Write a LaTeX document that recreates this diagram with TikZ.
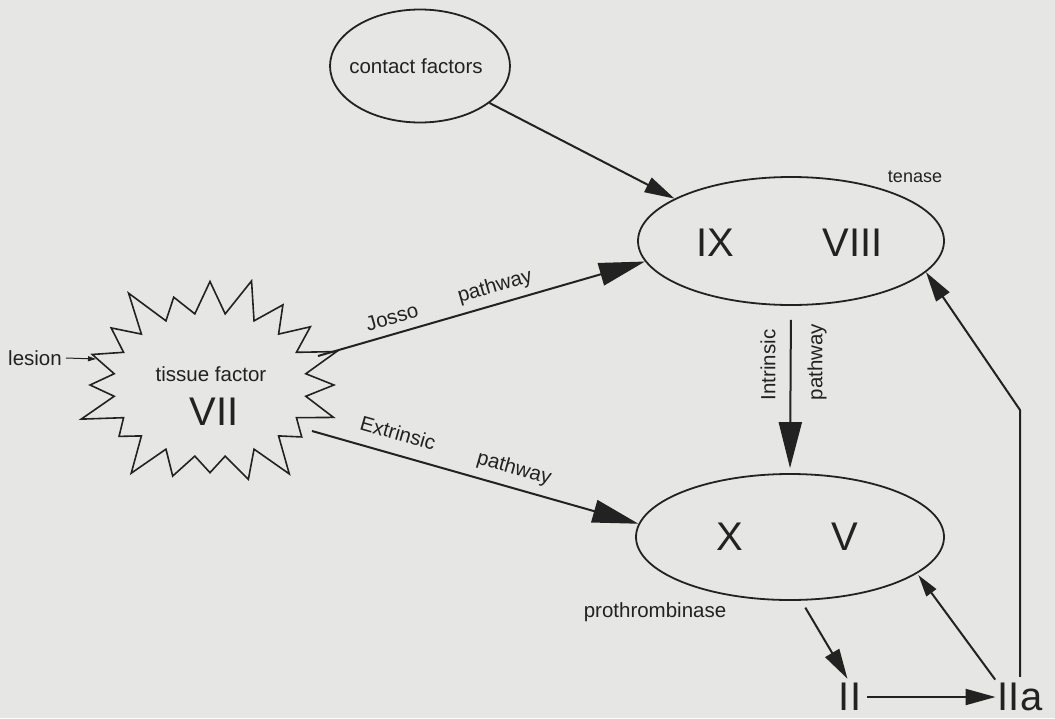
\documentclass[tikz,border=0pt]{standalone}
\usepackage{fontspec}
\setmainfont{Liberation Sans}
\usetikzlibrary{shapes.geometric,shapes.symbols,arrows.meta}
\definecolor{paper}{RGB}{230,230,228}
\definecolor{ink}{RGB}{34,34,34}
\begin{document}
\begin{tikzpicture}[x=1pt,y=-1pt,
    cplx/.style={draw=ink, line width=1.8pt, ellipse, inner sep=0pt},
    lbl/.style={text=ink, inner sep=0pt, font=\fontsize{20.5}{24}\selectfont},
    roman/.style={text=ink, inner sep=0pt, font=\fontsize{40}{48}\selectfont},
    flow/.style={draw=ink, line width=2pt},
    bigtip/.style={-{Triangle[length=46pt,width=23pt]}},
    midtip/.style={-{Triangle[length=30pt,width=16pt]}},
    smalltip/.style={-{Triangle[length=22pt,width=12pt]}}]
    % papier
    \fill[paper] (0,0) rectangle (1055,718);

    % complexes
    \node[cplx, minimum width=180pt, minimum height=113pt] (contact) at (420,66) {};
    \node[lbl] (contacttxt) at (416,66) {contact factors};
    \node[cplx, minimum width=306pt, minimum height=128pt] (tenase) at (791,241) {};
    \node[roman] (IX) at (715,243) {IX};
    \node[roman] (VIII) at (853,243) {VIII};
    \node[lbl, font=\fontsize{18}{22}\selectfont] (tenasetxt) at (915,177) {tenase};
    \node[cplx, minimum width=308pt, minimum height=126pt] (XV) at (790,537) {};
    \node[roman] (X) at (730,537) {X};
    \node[roman] (V) at (845,537) {V};
    \node[lbl] (prothr) at (655,612) {prothrombinase};
    \node[roman] (II) at (850,697) {II};
    \node[roman] (IIa) at (1020,697) {IIa};

    % tissue factor
    \node[shape=starburst, draw=ink, line width=1.6pt, minimum width=282pt, minimum height=232pt,
          starburst points=20, starburst point height=44pt] (burst) at (210,385) {};
    \node[lbl] (tf) at (211,374) {tissue factor};
    \node[roman] (VII) at (214,412) {VII};
    \node[lbl] (lesion) at (35,358) {lesion};
    \coordinate (lesionhit) at (96,359);
    \coordinate (jstart) at (318,356);
    \coordinate (estart) at (312,431);
    \coordinate (bend) at (1020,410);

    % pijlen
    \draw[flow, -{Triangle[length=8pt,width=5pt]}, line width=1pt] (lesion.east) ++(4,0) -- (lesionhit);
    \draw[flow, midtip] (contact.-28) -- (tenase.160);
    \draw[flow, bigtip] (jstart) -- (tenase.188);
    \draw[flow, bigtip] (estart) -- (XV.175);
    \draw[flow, bigtip, shorten <=14pt, shorten >=5pt] (tenase.south) -- (XV.north);
    \draw[flow, midtip, shorten <=8pt, shorten >=5pt] (XV.-80) -- (II.north);
    \draw[flow, midtip, shorten <=6pt, shorten >=2pt] (II.east) -- (IIa.west);
    \draw[flow, smalltip, shorten <=4pt, shorten >=2pt] (IIa.north west) -- (XV.-16);
    \draw[flow, midtip] ([yshift=6pt]IIa.north) -- (bend) -- (tenase.-13);

    % labels op de pijlen
    \node[lbl, rotate=16] (josso) at (392,317) {Josso};
    \node[lbl, rotate=16] (jpath) at (495,287) {pathway};
    \node[lbl, rotate=-16] (extr) at (398,433) {Extrinsic};
    \node[lbl, rotate=-16] (epath) at (514,469) {pathway};
    \node[lbl, rotate=90] (intr) at (768,365) {Intrinsic};
    \node[lbl, rotate=90] (ipath) at (817,362) {pathway};
\end{tikzpicture}
\end{document}
